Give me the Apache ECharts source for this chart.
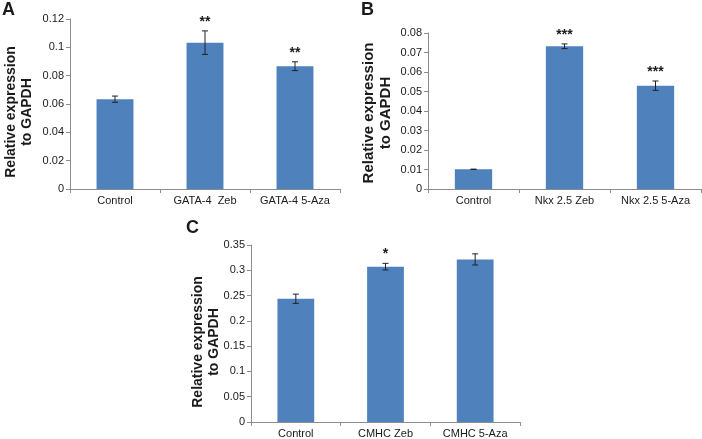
<!DOCTYPE html>
<html><head><meta charset="utf-8">
<script src="https://cdn.jsdelivr.net/npm/echarts@6/dist/echarts.min.js"></script>
<style>html,body{margin:0;padding:0;background:#fff}#c{width:702px;height:439px}</style>
</head><body><div id="c"></div>
<script>
// Panel A
var catsA = ['Control', 'GATA-4  Zeb', 'GATA-4 5-Aza'];
var valsA = [0.0634, 0.1033, 0.0867];
var errA = [0.0022, 0.0083, 0.0031];
var sigA = ['', '**', '**'];
// Panel B
var catsB = ['Control', 'Nkx 2.5 Zeb', 'Nkx 2.5 5-Aza'];
var valsB = [0.0101, 0.0732, 0.0530];
var errB = [0.0001, 0.0012, 0.0024];
var sigB = ['', '***', '***'];
// Panel C
var catsC = ['Control', 'CMHC Zeb', 'CMHC 5-Aza'];
var valsC = [0.2437, 0.3072, 0.3215];
var errC = [0.0091, 0.0065, 0.0110];
var sigC = ['', '*', ''];
// Axis ranges
var axisA = {max: 0.12, interval: 0.02};
var axisB = {max: 0.08, interval: 0.01};
var axisC = {max: 0.35, interval: 0.05};

var FONT = 'Arial, "Liberation Sans", sans-serif';
var BAR = '#4F81BD';
var AXC = '#8c8c8c';

function xAx(cats, gi) {
  return {type: 'category', gridIndex: gi, data: cats,
    axisLine: {lineStyle: {color: AXC}}, axisTick: {show: true, length: 4, lineStyle: {color: AXC}},
    axisLabel: {color: '#1a1a1a', fontFamily: FONT, fontSize: 11, margin: 6, interval: 0, hideOverlap: false}};
}
function yAx(ax, gi) {
  return {type: 'value', gridIndex: gi, min: 0, max: ax.max, interval: ax.interval,
    axisLine: {show: true, lineStyle: {color: AXC}}, axisTick: {show: true, length: 4, lineStyle: {color: AXC}},
    splitLine: {show: false},
    axisLabel: {color: '#1a1a1a', fontFamily: FONT, fontSize: 11, margin: 6}};
}
function errSeries(vals, errs, sigs, gi) {
  return {type: 'custom', xAxisIndex: gi, yAxisIndex: gi, z: 10,
    data: vals.map(function (v, i) { return [i, v, errs[i]]; }),
    encode: {x: 0, y: 1},
    renderItem: function (params, api) {
      var i = api.value(0), v = api.value(1), e = api.value(2);
      var top = api.coord([i, v + e]), bot = api.coord([i, v - e]);
      var x = top[0], cw = 3;
      var st = {stroke: '#222', lineWidth: 1};
      var ch = [
        {type: 'line', shape: {x1: x, y1: top[1], x2: x, y2: bot[1]}, style: st},
        {type: 'line', shape: {x1: x - cw, y1: top[1], x2: x + cw, y2: top[1]}, style: st},
        {type: 'line', shape: {x1: x - cw, y1: bot[1], x2: x + cw, y2: bot[1]}, style: st}
      ];
      var s = sigs[params.dataIndex];
      if (s) ch.push({type: 'text', style: {text: s, x: x, y: top[1] - 2, align: 'center', verticalAlign: 'bottom',
        font: 'bold 14px ' + FONT, fill: '#1a1a1a'}});
      return {type: 'group', children: ch};
    }};
}
function barSeries(vals, gi) {
  return {type: 'bar', xAxisIndex: gi, yAxisIndex: gi, data: vals, barWidth: '41%',
    itemStyle: {color: BAR}};
}
function title(text, x, y, size) {
  return {type: 'text', x: x, y: y, rotation: Math.PI / 2,
    style: {text: text, font: 'bold ' + size + 'px ' + FONT, fill: '#1a1a1a', align: 'center', verticalAlign: 'middle', lineHeight: size + 2}};
}
function letter(t, x, y) {
  return {type: 'text', x: x, y: y, style: {text: t, font: 'bold 18px ' + FONT, fill: '#1a1a1a'}};
}

var chart = echarts.init(document.getElementById('c'));
chart.setOption({
  animation: false,
  grid: [
    {left: 70, top: 19, width: 270, height: 170},
    {left: 428, top: 33, width: 273, height: 156},
    {left: 251, top: 245, width: 269, height: 180}
  ],
  xAxis: [xAx(catsA, 0), xAx(catsB, 1), xAx(catsC, 2)],
  yAxis: [yAx(axisA, 0), yAx(axisB, 1), yAx(axisC, 2)],
  series: [
    barSeries(valsA, 0), errSeries(valsA, errA, sigA, 0),
    barSeries(valsB, 1), errSeries(valsB, errB, sigB, 1),
    barSeries(valsC, 2), errSeries(valsC, errC, sigC, 2)
  ],
  graphic: [
    letter('A', 2, 1), letter('B', 361, 1), letter('C', 186, 219),
    title('Relative expression\nto GAPDH', 19, 112, 14),
    title('Relative expression\nto GAPDH', 377, 113, 15),
    title('Relative expression\nto GAPDH', 206, 342, 14)
  ]
});
</script></body></html>
